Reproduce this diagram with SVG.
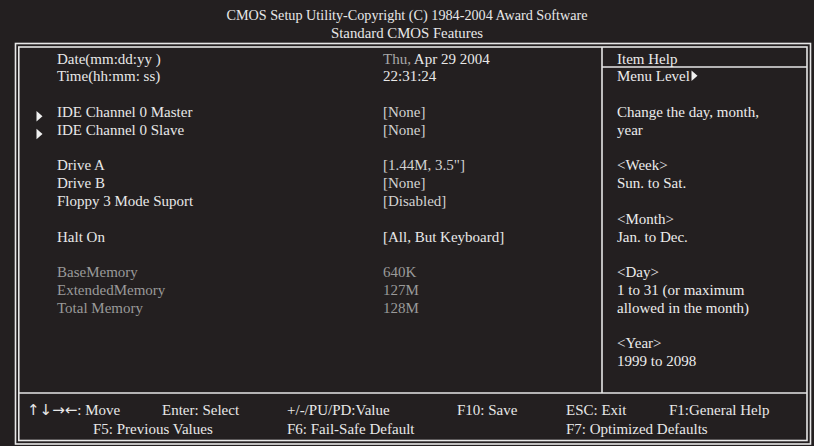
<svg xmlns="http://www.w3.org/2000/svg" width="814" height="446" viewBox="0 0 814 446">
<style>
  text { font-family: "Liberation Serif", "DejaVu Serif", serif; font-size: 15px; fill: #e8e8e8; }
  .title { font-size: 15px; text-anchor: middle; }
  .val { fill: #d2d2d2; }
  .dim { fill: #9a9a9a; }
  .help { fill: #ececec; }
  .foot { fill: #e8e8e8; }
  .ln { stroke: #e6e6e6; stroke-width: 1.6; fill: none; }
  .tri { fill: #f0f0f0; }
</style>
<rect x="0" y="0" width="814" height="446" fill="#231f20"/>

<g id="header">
  <text class="title" x="407" y="20" textLength="361" lengthAdjust="spacingAndGlyphs">CMOS Setup Utility-Copyright (C) 1984-2004 Award Software</text>
  <text class="title" x="407" y="37.5" textLength="152" lengthAdjust="spacingAndGlyphs">Standard CMOS Features</text>
</g>

<g id="frame">
  <rect class="ln" x="15.5" y="43.5" width="795" height="400.5"/>
  <rect class="ln" x="18.8" y="47" width="788.2" height="393.5"/>
  <line class="ln" x1="18.8" y1="393" x2="807" y2="393"/>
  <line class="ln" x1="602" y1="47" x2="602" y2="393"/>
  <line class="ln" x1="602" y1="67" x2="807" y2="67"/>
</g>

<g id="items">
  <text x="57" y="63.5">Date(mm:dd:yy )</text>
  <text x="57" y="81.3">Time(hh:mm: ss)</text>
  <polygon class="tri" points="36.5,111 36.5,121.5 42.5,116.2"/>
  <text x="57" y="116.9">IDE Channel 0 Master</text>
  <polygon class="tri" points="36.5,128.8 36.5,139.3 42.5,134"/>
  <text x="57" y="134.7">IDE Channel 0 Slave</text>
  <text x="57" y="170.3">Drive A</text>
  <text x="57" y="188.1">Drive B</text>
  <text x="57" y="205.9">Floppy 3  Mode Suport</text>
  <text x="57" y="241.5">Halt On</text>
  <text class="dim" x="57" y="277.1">BaseMemory</text>
  <text class="dim" x="57" y="294.9">ExtendedMemory</text>
  <text class="dim" x="57" y="312.7">Total Memory</text>
</g>

<g id="values">
  <text x="383" y="63.5"><tspan fill="#a8a8a8">Thu,</tspan> Apr  29 2004</text>
  <text x="383" y="81.3">22:31:24</text>
  <text class="val" x="383" y="116.9">[None]</text>
  <text class="val" x="383" y="134.7">[None]</text>
  <text class="val" x="383" y="170.3">[1.44M, 3.5"]</text>
  <text class="val" x="383" y="188.1">[None]</text>
  <text class="val" x="383" y="205.9">[Disabled]</text>
  <text x="383" y="241.5">[All, But Keyboard]</text>
  <text class="dim" x="383" y="277.1">640K</text>
  <text class="dim" x="383" y="294.9">127M</text>
  <text class="dim" x="383" y="312.7">128M</text>
</g>

<g id="help">
  <text class="help" x="617" y="63.5">Item Help</text>
  <text class="help" x="617" y="81.3">Menu Level</text>
  <polygon class="tri" points="691.5,70.5 691.5,81 697.5,75.7"/>
  <text class="help" x="617" y="116.9">Change the day, month,</text>
  <text class="help" x="617" y="134.7">year</text>
  <text class="help" x="617" y="170.3">&lt;Week&gt;</text>
  <text class="help" x="617" y="188.1">Sun. to Sat.</text>
  <text class="help" x="617" y="223.7">&lt;Month&gt;</text>
  <text class="help" x="617" y="241.5">Jan. to Dec.</text>
  <text class="help" x="617" y="277.1">&lt;Day&gt;</text>
  <text class="help" x="617" y="294.9">1 to 31 (or maximum</text>
  <text class="help" x="617" y="312.7">allowed in the month)</text>
  <text class="help" x="617" y="348.3">&lt;Year&gt;</text>
  <text class="help" x="617" y="366.1">1999  to 2098</text>
</g>

<g id="footer">
  <text class="foot" x="27" y="415"><tspan font-family="DejaVu Sans, sans-serif" font-size="15">↑↓→←</tspan>: Move</text>
  <text class="foot" x="162" y="415">Enter: Select</text>
  <text class="foot" x="287" y="415">+/-/PU/PD:Value</text>
  <text class="foot" x="457" y="415">F10: Save</text>
  <text class="foot" x="566" y="415">ESC: Exit</text>
  <text class="foot" x="669" y="415">F1:General Help</text>
  <text class="foot" x="93" y="434">F5: Previous Values</text>
  <text class="foot" x="287" y="434">F6: Fail-Safe Default</text>
  <text class="foot" x="566" y="434">F7: Optimized Defaults</text>
</g>
</svg>
